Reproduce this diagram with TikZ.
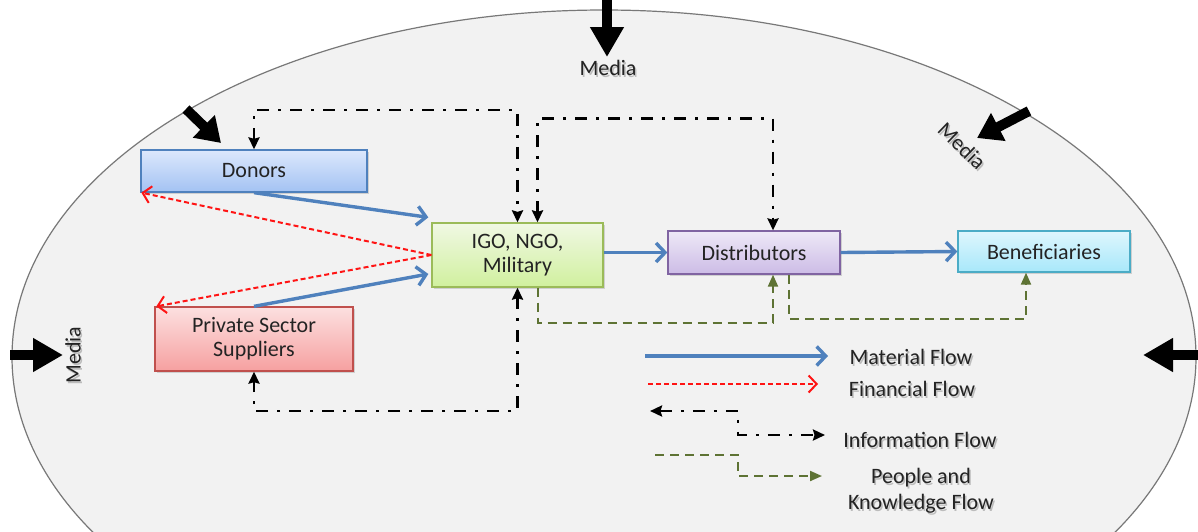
\documentclass[tikz,border=0pt]{standalone}
\usepackage{fontspec}
\setmainfont{Carlito}
\usetikzlibrary{arrows.meta,shadows,calc}

\definecolor{envfill}{RGB}{242,242,242}
\definecolor{envline}{RGB}{120,120,120}
\definecolor{matblue}{RGB}{79,129,189}
\definecolor{finred}{RGB}{255,20,20}
\definecolor{olive}{RGB}{94,115,52}
\definecolor{txt}{RGB}{35,35,35}

\tikzset{
  box/.style={draw, line width=1.3pt, minimum width=#1, inner sep=2pt, align=center,
    text=txt, drop shadow={shadow xshift=1.5pt, shadow yshift=-2pt, opacity=0.3}},
  matflow/.style={draw=matblue, line width=3.4pt, -{Straight Barb[length=9pt,width=19pt]}},
  finflow/.style={draw=finred, line width=2pt, dash pattern=on 5pt off 3pt,
    -{Straight Barb[length=8pt,width=17pt]}},
  infoflow/.style={draw=black, line width=2.8pt, dash pattern=on 12pt off 9pt on 3pt off 9pt},
  infotip/.style={{Stealth[length=12pt,width=11pt,inset=1.5pt]}-{Stealth[length=12pt,width=11pt,inset=1.5pt]}},
  pkflow/.style={draw=olive, line width=2pt, dash pattern=on 9pt off 6pt,
    -{Triangle[length=12pt,width=10pt]}},
  media/.style={draw=black, fill=black, line width=10pt, -{Triangle[length=30pt,width=32pt]}},
  smallmedia/.style={draw=black, line width=10pt, -{Triangle[length=24pt,width=30pt]}},
  lbl/.style={text=txt, inner sep=0pt},
  lblshade/.style={text=black, text opacity=0.22, inner sep=0pt},
}

% a label with a soft shadow behind it: name, position, options, text
\newcommand\shadedlabel[4]{%
  \node[lblshade, #3] at ($#2+(1.5,2)$) {#4};
  \node[lbl, #3] (#1) at #2 {#4};}

\begin{document}
\begin{tikzpicture}[x=1pt, y=-1pt, font=\fontsize{22}{26}\selectfont]
\useasboundingbox (0,0) rectangle (1198,531);
\fill[white] (0,0) rectangle (1198,531);
\clip (0,0) rectangle (1198,531);

% the surrounding environment
\draw[draw=envline, line width=1.2pt, fill=envfill]
  (604,357) ellipse [x radius=592pt, y radius=347pt];

% actors
\node[box=226pt, minimum height=42pt, draw=matblue, top color={rgb,255:red,220;green,232;blue,252},
  bottom color={rgb,255:red,163;green,194;blue,243}] (donors) at (254,171) {Donors};
\node[box=171pt, minimum height=64pt, draw={rgb,255:red,155;green,187;blue,89},
  top color={rgb,255:red,240;green,248;blue,228}, bottom color={rgb,255:red,208;green,240;blue,158},
  font=\fontsize{22}{24}\selectfont]
  (igo) at (517.5,255) {IGO, NGO,\\Military};
\node[box=172pt, minimum height=43pt, draw={rgb,255:red,128;green,100;blue,162},
  top color={rgb,255:red,238;green,232;blue,247}, bottom color={rgb,255:red,204;green,188;blue,230}]
  (dist) at (754,252.5) {Distributors};
\node[box=172pt, minimum height=41pt, draw={rgb,255:red,75;green,172;blue,198},
  top color={rgb,255:red,222;green,246;blue,253}, bottom color={rgb,255:red,168;green,232;blue,250}]
  (ben) at (1044,251.5) {Beneficiaries};
\node[box=198pt, minimum height=64pt, draw={rgb,255:red,192;green,80;blue,77},
  top color={rgb,255:red,252;green,224;blue,224}, bottom color={rgb,255:red,246;green,160;blue,160},
  font=\fontsize{22}{24}\selectfont]
  (pss) at (254,339) {Private Sector\\Suppliers};

% material flow
\draw[matflow] (donors.south) -- ($(igo.north west)+(-3,-5)$);
\draw[matflow] (pss.north) -- ($(igo.west)+(-3,19)$);
\draw[matflow] (igo.east |- dist.west) -- (dist.west);
\draw[matflow] (dist.east) -- (ben.west);

% financial flow
\draw[finflow] (igo.west) -- ($(donors.south west)+(1,0)$);
\draw[finflow] (igo.west) -- ($(pss.north west)+(2,0)$);

% information flow
\draw[infoflow, infotip] (donors.north) -- (donors.north |- 0,110) -| (igo.north);
\draw[infoflow, infotip] ($(igo.north)+(20,0)$) -- ($(igo.north)+(20,-104)$)
  -| ($(dist.north)+(19,0)$);
\draw[infoflow, infotip] (igo.south) -- (igo.south |- 0,411) -| (pss.south);

% people and knowledge flow
\draw[pkflow] ($(igo.south)+(20,0)$) -- ($(igo.south)+(20,35)$) -| ($(dist.south)+(19,0)$);
\draw[pkflow] ($(dist.south)+(35,0)$) -- ($(dist.south)+(35,44)$) -| ($(ben.south)+(-18,0)$);

% media pressure
\coordinate (mtopA) at (607,0);   \coordinate (mtopB) at (607,57);
\coordinate (mtlA) at (186,109);  \coordinate (mtlB) at (221,143);
\coordinate (mtrA) at (1029,111); \coordinate (mtrB) at (977,138);
\coordinate (mlA) at (10,355);    \coordinate (mlB) at (63,355);
\coordinate (mrA) at (1198,355);  \coordinate (mrB) at (1143,355);
\draw[media] (mtopA) -- (mtopB);
\draw[smallmedia] (mtlA) -- (mtlB);
\draw[smallmedia] (mtrA) -- (mtrB);
\draw[media] (mlA) -- (mlB);
\draw[media] (mrA) -- (mrB);
\shadedlabel{mediatop}{(608,68)}{}{Media}
\shadedlabel{mediatr}{(962,146)}{rotate=-44}{Media}
\shadedlabel{medialeft}{(73,355)}{rotate=90}{Media}

% legend
\coordinate (lm1) at (645,356);  \coordinate (lm2) at (828,356);
\coordinate (lf1) at (648,384);  \coordinate (lf2) at (818,384);
\coordinate (li1) at (650,411);  \coordinate (li2) at (825,435);
\coordinate (lp1) at (655,455);  \coordinate (lp2) at (822,476);
\draw[matflow] (lm1) -- (lm2);
\draw[finflow] (lf1) -- (lf2);
\draw[infoflow, infotip] (li1) -- (738,411) -- (738,435) -- (li2);
\draw[pkflow] (lp1) -- (738,455) -- (738,476) -- (lp2);
\shadedlabel{lmt}{(911,357)}{}{Material Flow}
\shadedlabel{lft}{(912,389)}{}{Financial Flow}
\shadedlabel{lit}{(920,440)}{}{Information Flow}
\shadedlabel{lpt}{(921,491)}{align=center}{People and\\Knowledge Flow}
\end{tikzpicture}
\end{document}
